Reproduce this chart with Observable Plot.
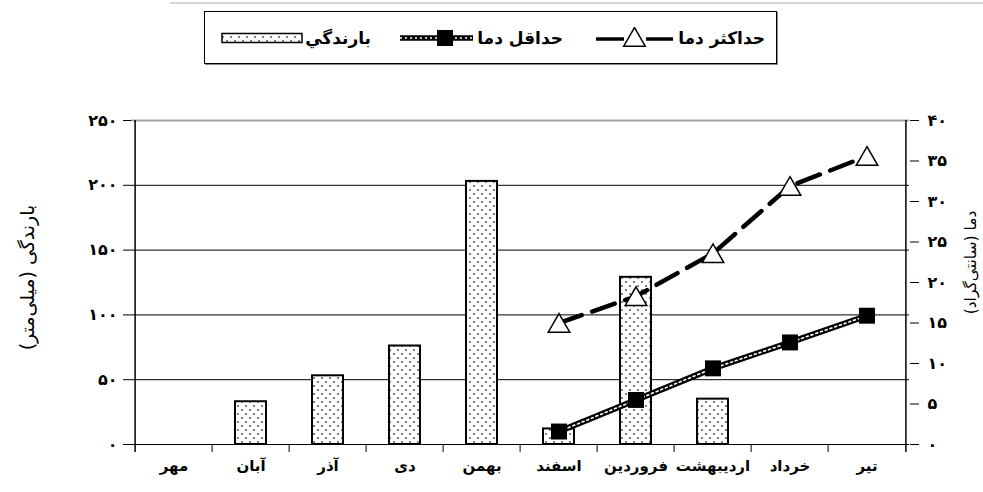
<!DOCTYPE html>
<html><head><meta charset="utf-8">
<script src="https://cdn.jsdelivr.net/npm/d3@7"></script>
<script src="https://cdn.jsdelivr.net/npm/@observablehq/plot@0.6"></script>
<style>
body{margin:0;background:#fff;font-family:"DejaVu Sans",sans-serif;}
#wrap{position:relative;width:983px;height:492px;overflow:hidden;}
#topline{position:absolute;left:170px;right:0;top:2px;border-top:2px solid #d6d6d6;}
#chart{position:absolute;left:0;top:0;}
#legend{position:absolute;left:204px;top:11px;width:573px;height:53px;box-sizing:border-box;border:1px solid #000;box-shadow:1px 1px 0 #888;background:#fff;font-weight:bold;font-size:17px;color:#000;direction:rtl;}
#legend .it{position:absolute;top:50%;transform:translateY(-50%);white-space:nowrap;line-height:1;}
#legend svg{position:absolute;top:50%;transform:translateY(-50%);display:block;}
</style>
</head><body>
<div id="wrap">
  <div id="topline"></div>
  <div id="chart"></div>
  <div id="legend"></div>
</div>
<script>
const months = ["مهر","آبان","آذر","دی","بهمن","اسفند","فروردین","اردیبهشت","خرداد","تیر"];
const rainfall = [0, 33, 53, 76, 203, 12, 129, 35, 0, 0];
const maxTemp = [null, null, null, null, null, 15, 18.3, 23.6, 31.9, 35.6];
const minTemp = [null, null, null, null, null, 1.6, 5.5, 9.4, 12.6, 15.9];
const rainTicks = [0, 50, 100, 150, 200, 250];
const tempTicks = [0, 5, 10, 15, 20, 25, 30, 35, 40];
const seriesNames = ["حداکثر دما", "حداقل دما", "بارندگي"];
const leftTitle = "بارندگی (میلی‌متر)";
const rightTitle = "دما (سانتی‌گراد)";

const fa = v => String(v).replace(/\d/g, c => "۰۱۲۳۴۵۶۷۸۹"[+c]);
const k = rainTicks[rainTicks.length-1] / tempTicks[tempTicks.length-1];
const W = 983, H = 492, mL = 131, mR = 74, mT = 120, mB = 48;
const bw = (W - mL - mR) / months.length;
const table = months.map((m, i) => ({month: m, rain: rainfall[i], tmax: maxTemp[i], tmin: minTemp[i]}));
const temps = table.filter(d => d.tmax != null);
const belowY = -8 * 250 / (H - mT - mB);

const plot = Plot.plot({
  width: W, height: H,
  marginTop: mT, marginBottom: mB, marginLeft: mL, marginRight: mR,
  style: {fontFamily: "DejaVu Sans", fontSize: "13px", color: "#000", background: "transparent", overflow: "visible"},
  x: {domain: months, padding: 0},
  y: {domain: [0, 250]},
  marks: [
    Plot.ruleY(rainTicks.slice(1, -1), {stroke: "#000", strokeWidth: 1}),
    Plot.ruleY(rainTicks.slice(-1), {stroke: "#a0a0a0", strokeWidth: 2}),
    Plot.barY(table.filter(d => d.rain > 0), {x: "month", y: "rain", fill: "url(#dots)", stroke: "#000", strokeWidth: 2, insetLeft: 23, insetRight: 23}),
    Plot.ruleY([0], {stroke: "#000", strokeWidth: 1.2}),
    Plot.ruleX(months.slice(1), {x: d => d, dx: -bw/2, y1: 0, y2: belowY, stroke: "#000", strokeWidth: 1}),
    Plot.ruleX(months.slice(0, 1), {x: d => d, dx: -bw/2, y1: belowY, y2: 250, stroke: "#000", strokeWidth: 1.5}),
    Plot.ruleX(months.slice(-1), {x: d => d, dx: bw/2, y1: belowY, y2: 250, stroke: "#000", strokeWidth: 1.5}),
    Plot.axisY({anchor: "left", ticks: rainTicks, tickFormat: fa, tickSize: 8, tickPadding: 6, fontWeight: "bold", fontSize: 16, label: null}),
    Plot.axisY({anchor: "right", ticks: tempTicks.map(t => t * k), tickFormat: v => fa(Math.round(v / k)), tickSize: 9, tickPadding: 9, fontWeight: "bold", fontSize: 16, label: null}),
    Plot.axisX({tickSize: 0, tickPadding: 16, fontWeight: "bold", fontSize: 15, label: null}),
    Plot.line(temps, {x: "month", y: d => d.tmax * k, stroke: "#000", strokeWidth: 4.5, strokeDasharray: "24 11"}),
    Plot.line(temps, {x: "month", y: d => d.tmin * k, stroke: "#000", strokeWidth: 6}),
    Plot.line(temps, {x: "month", y: d => d.tmin * k, stroke: "#fff", strokeWidth: 1.6, strokeDasharray: "2 3"}),
    Plot.dot(temps, {x: "month", y: d => d.tmax * k, symbol: "triangle", r: 8, dy: 3, fill: "#fff", stroke: "#000", strokeWidth: 1.5}),
    Plot.dot(temps, {x: "month", y: d => d.tmin * k, symbol: "square", r: 9, fill: "#000"}),
    Plot.text([leftTitle], {text: d => "\u200F" + d + "\u200F", frameAnchor: "left", textAnchor: "middle", dx: -104, dy: -5, rotate: -90, fontSize: 19}),
    Plot.text([rightTitle], {text: d => "\u200F" + d + "\u200F", frameAnchor: "right", textAnchor: "middle", dx: 62, dy: -20, rotate: -90, fontSize: 15.5})
  ]
});

d3.select(plot).insert("defs", ":first-child").html(
  '<pattern id="dots" width="8" height="8" patternUnits="userSpaceOnUse">' +
  '<rect width="8" height="8" fill="#fff"/>' +
  '<circle cx="2" cy="2" r="1" fill="#555"/><circle cx="6" cy="6" r="1" fill="#555"/></pattern>');
document.getElementById("chart").appendChild(plot);

// Legend (positions relative to the legend box interior)
const legend = d3.select("#legend");
const boxInner = 571;
function txt(name, rightEdge) {
  legend.append("span").attr("class", "it").style("right", (boxInner - rightEdge) + "px").text(name);
}
function sym(left, width, draw) {
  const s = legend.append("svg").attr("width", width).attr("height", 22).style("left", left + "px");
  draw(s);
}
txt(seriesNames[0], 560);
sym(391, 77, s => {
  s.append("line").attr("x1", 0).attr("x2", 77).attr("y1", 12).attr("y2", 12).attr("stroke", "#000").attr("stroke-width", 3.5).attr("stroke-dasharray", "28 22");
  s.append("path").attr("d", d3.symbol(d3.symbolTriangle, 8*8*Math.PI)()).attr("transform", "translate(38.5,13)").attr("fill", "#fff").attr("stroke", "#000").attr("stroke-width", 1.5);
});
txt(seriesNames[1], 358);
sym(195, 73, s => {
  s.append("line").attr("x1", 0).attr("x2", 73).attr("y1", 11).attr("y2", 11).attr("stroke", "#000").attr("stroke-width", 5.5);
  s.append("line").attr("x1", 0).attr("x2", 73).attr("y1", 11).attr("y2", 11).attr("stroke", "#fff").attr("stroke-width", 1.6).attr("stroke-dasharray", "2 3");
  s.append("rect").attr("x", 37).attr("y", 3).attr("width", 16).attr("height", 16).attr("fill", "#000");
});
txt(seriesNames[2], 166);
sym(16, 82, s => {
  s.append("defs").html('<pattern id="ldots" width="8" height="8" patternUnits="userSpaceOnUse"><rect width="8" height="8" fill="#fff"/><circle cx="2" cy="2" r="1" fill="#555"/><circle cx="6" cy="6" r="1" fill="#555"/></pattern>');
  s.append("rect").attr("x", 1).attr("y", 6.5).attr("width", 80).attr("height", 9).attr("fill", "url(#ldots)").attr("stroke", "#000").attr("stroke-width", 1.5);
});
</script>
</body></html>
